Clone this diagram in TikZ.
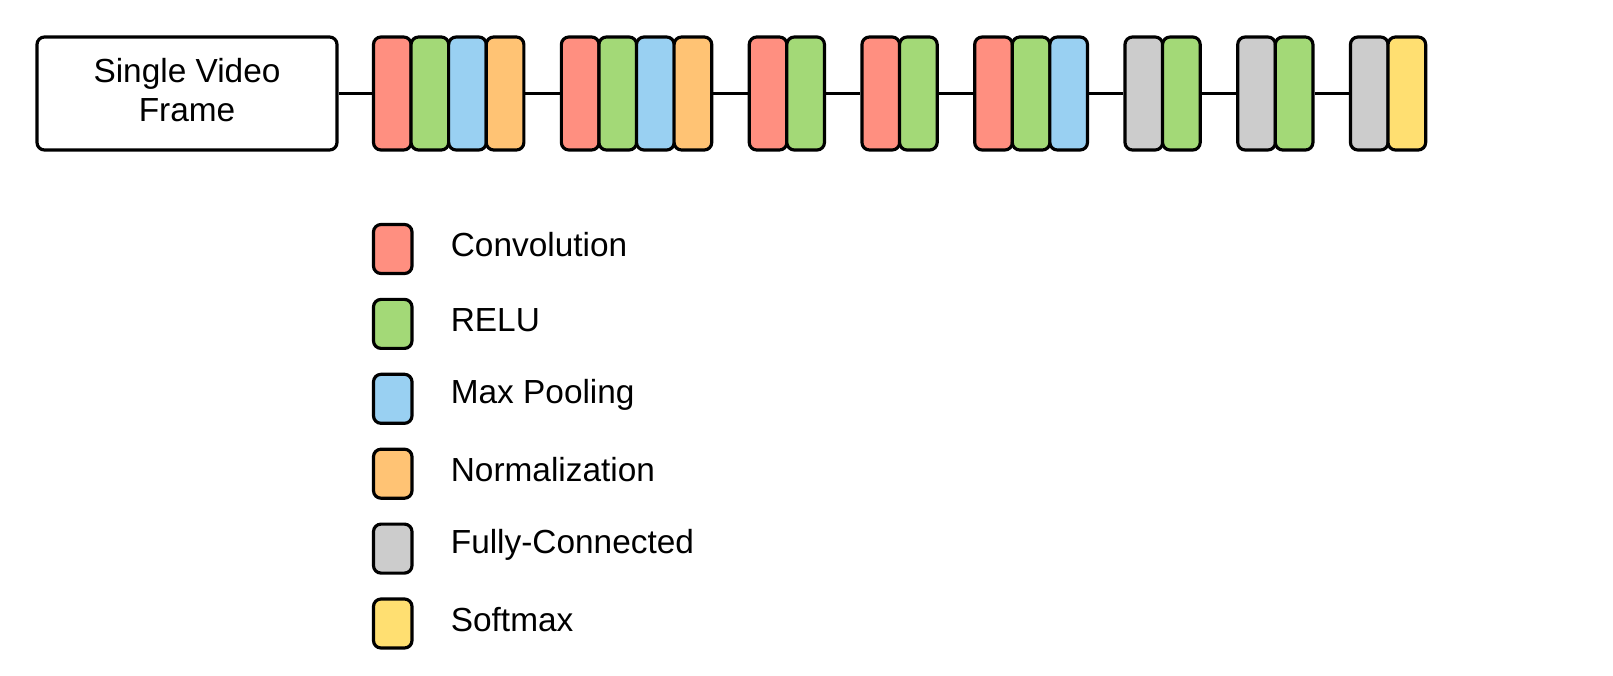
\documentclass[tikz,border=0pt]{standalone}
\usepackage{fontspec}
\setmainfont{Liberation Sans}
\usepackage{tikz}
\definecolor{conv}{HTML}{FF8F80}
\definecolor{relu}{HTML}{A3D977}
\definecolor{pool}{HTML}{99D0F2}
\definecolor{norm}{HTML}{FFC374}
\definecolor{fc}{HTML}{CCCCCC}
\definecolor{soft}{HTML}{FFDF71}
\tikzset{
  blk/.style={draw,line width=1.8pt,rounded corners=0.15cm,minimum width=0.753cm,
    minimum height=2.26cm,inner sep=0pt},
  keybox/.style={draw,line width=1.8pt,rounded corners=0.15cm,minimum width=0.77cm,
    minimum height=0.98cm,inner sep=0pt},
  lbl/.style={anchor=west,inner sep=0pt,font=\fontsize{19}{22}\selectfont}
}

\begin{document}
\begin{tikzpicture}
  \useasboundingbox (0,0) rectangle (32.26,-13.5);
  \node[blk,minimum width=6cm] (frame) at (3.74,-1.87) {};
  \node[align=center,inner sep=0pt,font=\fontsize{19}{22.2}\selectfont] (frametxt)
    at ([yshift=0.07cm]frame.center) {Single Video\\Frame};

  % the layers, one slot each
  \foreach \i/\c in {0/conv,1/relu,2/pool,3/norm,5/conv,6/relu,7/pool,8/norm,
      10/conv,11/relu,13/conv,14/relu,16/conv,17/relu,18/pool,
      20/fc,21/relu,23/fc,24/relu,26/fc,27/soft}{%
    \node[blk,fill=\c] (b\i) at (7.47+0.3765+\i*0.7515,-1.87) {};}

  \draw[line width=1.8pt] (frame) -- (b0);
  \foreach \a/\b in {3/5,8/10,11/13,14/16,18/20,21/23,24/26}{%
    \draw[line width=1.8pt] (b\a) -- (b\b);}

  % legend
  \foreach \n/\c/\t in {0/conv/Convolution,1/relu/RELU,2/pool/Max Pooling,
      3/norm/Normalization,4/fc/Fully-Connected,5/soft/Softmax}{%
    \node[keybox,fill=\c] (k\n) at (7.855,-4.98-\n*1.498) {};
    \node[lbl] (t\n) at (9.01,-4.9-\n*1.498) {\t};}
\end{tikzpicture}
\end{document}
